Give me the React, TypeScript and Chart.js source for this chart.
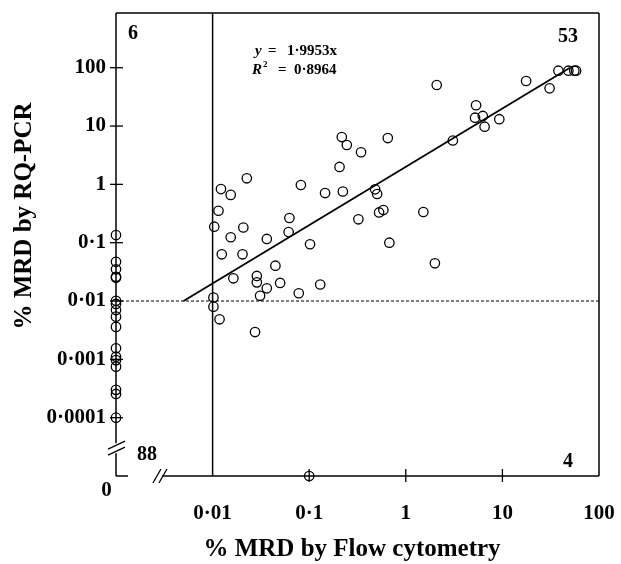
import React, { useEffect, useRef } from 'react';
import { Chart, registerables } from 'chart.js';

Chart.register(...registerables);

// Samples positive by both methods: % MRD by flow cytometry and by RQ-PCR
const FLOW_POS = [
  0.0226, 0.0122, 0.0154, 0.082, 0.146, 0.0115, 0.0104, 0.0208, 0.0624, 0.0612,
  0.0154, 0.0364, 0.102, 0.01245, 0.0204, 0.0447, 0.0164, 0.0287, 0.0287, 0.05,
  0.0364, 0.13, 0.031, 0.078, 0.0102, 0.0102, 0.0118, 0.0275, 0.2175, 0.245,
  0.344, 0.651, 0.206, 0.223, 0.481, 0.505, 0.323, 0.529, 0.586, 1.52,
  0.676, 2.0, 2.09, 5.34, 5.21, 6.27, 6.54, 9.29, 3.07, 17.6,
  30.8, 38.0, 48.2, 55.5, 57.9,
];
const PCR_POS = [
  1.27, 0.83, 0.66, 0.975, 0.71, 0.353, 0.188, 0.182, 0.265, 0.152,
  0.124, 0.116, 0.094, 0.0632, 0.0632, 0.0403, 0.0245, 0.0269, 0.0209, 0.0204,
  0.0165, 0.0192, 0.0123, 0.0136, 0.0115, 0.008, 0.00486, 0.00294, 6.48, 4.73,
  3.55, 6.23, 1.99, 0.755, 0.822, 0.684, 0.252, 0.33, 0.363, 0.336,
  0.1, 0.0443, 50.5, 22.7, 13.9, 14.9, 9.74, 13.1, 5.65, 59.2,
  44.3, 88.9, 88.9, 88.9, 88.9,
];
// Flow-negative samples (flow = 0): RQ-PCR values
const PCR_FLOW_NEG = [
  0.135, 0.047, 0.035, 0.026, 0.025, 0.0101, 0.0089, 0.007, 0.0054, 0.0036,
  0.00155, 0.00111, 0.00097, 0.00075, 0.0003, 0.000255, 0.0001,
];
// PCR-negative samples (PCR = 0): flow values
const FLOW_PCR_NEG = [0.1];

const X_TICKS = [0.01, 0.1, 1, 10, 100];
const X_TICK_LABELS = ['0·01', '0·1', '1', '10', '100'];
const Y_TICKS = [0.0001, 0.001, 0.01, 0.1, 1, 10, 100];
const Y_TICK_LABELS = ['0·0001', '0·001', '0·01', '0·1', '1', '10', '100'];
const ZERO_LABEL = '0';

// axis ranges (zero values sit on the axis minimum, behind the break)
const X_MIN = 0.001;
const X_MAX = 100;
const Y_MIN = 0.00001;
const Y_MAX = 867;
const X_BREAK = 0.00285;
const Y_BREAK = 0.00003;

const FLOW_THRESHOLD = 0.01;
const PCR_THRESHOLD = 0.01;

const FIT_SLOPE = 1.9953;
const FIT_R2 = '0·8964';
const FIT_SLOPE_LABEL = '1·9953x';
const FIT_X = [0.005, 50];

// quadrant counts: top-left, top-right, bottom-left, bottom-right
const QUADRANT_COUNTS = ['6', '53', '88', '4'];

const X_TITLE = '% MRD by Flow cytometry';
const Y_TITLE = '% MRD by RQ-PCR';

const SERIF = '"Liberation Serif", "Times New Roman", serif';

const overlay = {
  id: 'overlay',
  beforeDatasetsDraw(chart: any) {
    const { ctx, chartArea: a, scales } = chart;
    const xs = scales.x;
    const ys = scales.y;
    const line = (x1: number, y1: number, x2: number, y2: number) => {
      ctx.beginPath();
      ctx.moveTo(x1, y1);
      ctx.lineTo(x2, y2);
      ctx.stroke();
    };
    ctx.save();
    ctx.strokeStyle = '#000';
    ctx.lineCap = 'butt';
    ctx.lineWidth = 1.5;
    // frame
    line(a.left, a.top, a.right, a.top);
    line(a.right, a.top, a.right, a.bottom);
    const yb = ys.getPixelForValue(Y_BREAK);
    const xb = xs.getPixelForValue(X_BREAK);
    line(a.left, a.top, a.left, yb - 5);
    line(a.left, yb + 5, a.left, a.bottom);
    line(a.left, a.bottom, a.left + 12, a.bottom);
    line(xb + 2, a.bottom, a.right, a.bottom);
    // break marks
    ctx.lineWidth = 1.3;
    for (const k of [-3, 3]) {
      line(a.left - 8, yb + k + 4, a.left + 9, yb + k - 4);
      line(xb + k - 4, a.bottom + 7, xb + k + 4, a.bottom - 7);
    }
    // thresholds
    ctx.lineWidth = 1.5;
    const xt = xs.getPixelForValue(FLOW_THRESHOLD);
    line(xt, a.top, xt, a.bottom);
    const yt = ys.getPixelForValue(PCR_THRESHOLD);
    ctx.setLineDash([3, 2]);
    ctx.lineWidth = 1.2;
    line(a.left, yt, a.right, yt);
    ctx.setLineDash([]);
    // tick marks
    ctx.lineWidth = 1.3;
    Y_TICKS.forEach((v) => {
      const y = ys.getPixelForValue(v);
      line(a.left - 6, y, a.left + 7, y);
    });
    X_TICKS.filter((v) => v > FLOW_THRESHOLD && v < X_MAX).forEach((v) => {
      const x = xs.getPixelForValue(v);
      line(x, a.bottom - 7, x, a.bottom + 6);
    });
    ctx.restore();
  },
  afterDraw(chart: any) {
    const { ctx, chartArea: a } = chart;
    ctx.save();
    ctx.fillStyle = '#000';
    // axis titles
    ctx.font = `bold 25px ${SERIF}`;
    ctx.textAlign = 'center';
    ctx.textBaseline = 'alphabetic';
    ctx.fillText(X_TITLE, 352, 556);
    ctx.save();
    ctx.translate(31, 216);
    ctx.rotate(-Math.PI / 2);
    ctx.fillText(Y_TITLE, 0, 0);
    ctx.restore();
    // zero label at origin
    ctx.font = `bold 21px ${SERIF}`;
    ctx.textBaseline = 'middle';
    ctx.fillText(ZERO_LABEL, a.left - 9.5, a.bottom + 15);
    // quadrant counts
    ctx.font = `bold 20px ${SERIF}`;
    ctx.fillText(QUADRANT_COUNTS[0], a.left + 17, a.top + 21);
    ctx.fillText(QUADRANT_COUNTS[1], a.right - 31, a.top + 24);
    ctx.fillText(QUADRANT_COUNTS[2], a.left + 31, a.bottom - 21);
    ctx.fillText(QUADRANT_COUNTS[3], a.right - 31, a.bottom - 14);
    // fit equation
    ctx.textAlign = 'left';
    ctx.textBaseline = 'alphabetic';
    ctx.font = `italic bold 15px ${SERIF}`;
    ctx.fillText('y', 255, 55);
    ctx.fillText('R', 252, 74);
    ctx.font = `bold 15px ${SERIF}`;
    ctx.fillText('=', 268, 55);
    ctx.fillText(FIT_SLOPE_LABEL, 287, 55);
    ctx.fillText('=', 278, 74);
    ctx.fillText(FIT_R2, 294, 74);
    ctx.font = `bold 9px ${SERIF}`;
    ctx.fillText('2', 263, 67);
    ctx.restore();
  },
};

export default function App() {
  const ref = useRef<HTMLCanvasElement>(null);

  useEffect(() => {
    if (!ref.current) return;
    const pointStyle = {
      type: 'scatter' as const,
      pointStyle: 'circle',
      pointRadius: 4.7,
      pointBorderWidth: 1.3,
      pointBorderColor: '#000',
      pointBackgroundColor: 'rgba(0,0,0,0)',
      showLine: false,
      clip: false as any,
    };
    const chart = new Chart(ref.current, {
      type: 'scatter',
      data: {
        datasets: [
          {
            ...pointStyle,
            label: 'Positive by both',
            data: FLOW_POS.map((x, i) => ({ x, y: PCR_POS[i] })),
          },
          {
            ...pointStyle,
            label: 'Flow negative',
            data: PCR_FLOW_NEG.map((y) => ({ x: X_MIN, y })),
          },
          {
            ...pointStyle,
            label: 'PCR negative',
            data: FLOW_PCR_NEG.map((x) => ({ x, y: Y_MIN })),
          },
          {
            type: 'line' as const,
            label: 'Fit',
            data: FIT_X.map((x) => ({ x, y: FIT_SLOPE * x })),
            borderColor: '#000',
            borderWidth: 1.8,
            pointRadius: 0,
            showLine: true,
            fill: false,
          } as any,
        ],
      },
      options: {
        responsive: false,
        animation: false,
        events: [],
        layout: { padding: { top: 13, right: 22, left: 0, bottom: 0 } },
        plugins: { legend: { display: false }, tooltip: { enabled: false } },
        scales: {
          x: {
            type: 'logarithmic',
            min: X_MIN,
            max: X_MAX,
            grid: { display: false, drawTicks: false },
            border: { display: false },
            afterBuildTicks: (s: any) => {
              s.ticks = X_TICKS.map((value) => ({ value }));
            },
            afterFit: (s: any) => {
              s.height = 88;
              s.paddingLeft = 0;
              s.paddingRight = 0;
              s.paddingTop = 0;
              s.paddingBottom = 0;
            },
            ticks: {
              autoSkip: false,
              maxRotation: 0,
              padding: 25,
              color: '#000',
              font: { family: SERIF, weight: 'bold', size: 21 },
              callback: (v: any) => {
                const i = X_TICKS.indexOf(Number(v));
                return i >= 0 ? X_TICK_LABELS[i] : '';
              },
            },
          },
          y: {
            type: 'logarithmic',
            min: Y_MIN,
            max: Y_MAX,
            grid: { display: false, drawTicks: false },
            border: { display: false },
            afterBuildTicks: (s: any) => {
              s.ticks = Y_TICKS.map((value) => ({ value }));
            },
            afterFit: (s: any) => {
              s.width = 116;
              s.paddingLeft = 0;
              s.paddingRight = 0;
              s.paddingTop = 0;
              s.paddingBottom = 0;
            },
            ticks: {
              autoSkip: false,
              padding: 10,
              color: '#000',
              font: { family: SERIF, weight: 'bold', size: 21 },
              callback: (v: any) => {
                const i = Y_TICKS.indexOf(Number(v));
                return i >= 0 ? Y_TICK_LABELS[i] : '';
              },
            },
          },
        },
      } as any,
      plugins: [overlay],
    });
    return () => chart.destroy();
  }, []);

  return (
    <div style={{ position: 'absolute', left: 0, top: 0, width: 621, height: 564, background: '#fff' }}>
      <canvas ref={ref} width={621} height={564} style={{ display: 'block', width: 621, height: 564 }} />
    </div>
  );
}
